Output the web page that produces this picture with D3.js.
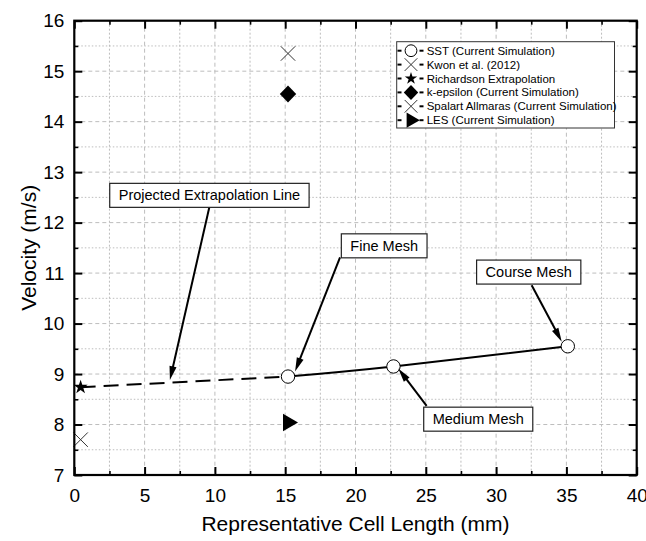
<!DOCTYPE html>
<html>
<head>
<meta charset="utf-8">
<script src="https://cdn.jsdelivr.net/npm/d3@7"></script>
<style>
body{margin:0;background:#fff;}
svg{display:block;font-family:"Liberation Sans",Arial,sans-serif;}
</style>
</head>
<body>
<svg id="chart" width="646" height="541"></svg>
<script>
// values
var sstX = [15.2, 22.7, 35.1];
var sstY = [8.95, 9.15, 9.55];
var kwonX = [0.45], kwonY = [7.7];
var richX = [0.45], richY = [8.74];
var kepsX = [15.2], kepsY = [14.55];
var saX = [15.2], saY = [15.35];
var lesX = [15.2], lesY = [8.04];

var xTicks = [0, 5, 10, 15, 20, 25, 30, 35, 40];
var yTicks = [7, 8, 9, 10, 11, 12, 13, 14, 15, 16];
var legendLabels = ["SST (Current Simulation)", "Kwon et al. (2012)", "Richardson Extrapolation",
  "k-epsilon (Current Simulation)", "Spalart Allmaras (Current Simulation)", "LES (Current Simulation)"];
var legendTypes = ["circle", "times", "star", "diamond", "times", "triangle"];
var noteLabels = ["Projected Extrapolation Line", "Fine Mesh", "Course Mesh", "Medium Mesh"];

var svg = d3.select("#chart");
var pLeft = 74.3, pRight = 636.7, pTop = 20.7, pBottom = 475;

var x = d3.scaleLinear().domain([0, 40]).range([pLeft, pRight]);
var y = d3.scaleLinear().domain([7, 16]).range([pBottom, pTop]);

var xMinor = d3.range(0, 40.01, 2.5).filter(function(v){ return v % 5 != 0; });
var yMinor = d3.range(7, 16.01, 0.5).filter(function(v){ return v % 1 != 0; });

svg.append("rect").attr("width", 646).attr("height", 541).attr("fill", "#fff");

// grid
var grid = svg.append("g").attr("stroke", "#bdbdbd").attr("stroke-width", 1);
xTicks.concat(xMinor).forEach(function(v){
  if (v == 0 || v == 40) return;
  grid.append("line").attr("x1", x(v)).attr("x2", x(v)).attr("y1", pTop).attr("y2", pBottom)
    .attr("stroke-dasharray", v % 5 == 0 ? "4,3" : "2,2");
});
yTicks.concat(yMinor).forEach(function(v){
  if (v == 7 || v == 16) return;
  grid.append("line").attr("y1", y(v)).attr("y2", y(v)).attr("x1", pLeft).attr("x2", pRight)
    .attr("stroke-dasharray", v % 1 == 0 ? "4,3" : "1.5,2");
});

// axes, ticks inward
function styleAxis(g, w){
  g.select(".domain").remove();
  g.selectAll(".tick line").attr("stroke", "#000").attr("stroke-width", w);
  g.selectAll("text").attr("font-size", 19).attr("fill", "#000").attr("font-family", "Liberation Sans, Arial, sans-serif");
}
svg.append("g").attr("transform", "translate(0," + pBottom + ")")
  .call(d3.axisBottom(x).tickValues(xTicks).tickSize(-8).tickPadding(13.5).tickFormat(d3.format("d")))
  .call(styleAxis, 2);
svg.append("g").attr("transform", "translate(0," + pBottom + ")")
  .call(d3.axisBottom(x).tickValues(xMinor).tickSize(-4).tickFormat(""))
  .call(styleAxis, 1.6);
svg.append("g").attr("transform", "translate(0," + pTop + ")")
  .call(d3.axisTop(x).tickValues(xTicks).tickSize(-8).tickFormat("")).call(styleAxis, 2);
svg.append("g").attr("transform", "translate(0," + pTop + ")")
  .call(d3.axisTop(x).tickValues(xMinor).tickSize(-4).tickFormat("")).call(styleAxis, 1.6);
svg.append("g").attr("transform", "translate(" + pLeft + ",0)")
  .call(d3.axisLeft(y).tickValues(yTicks).tickSize(-8).tickPadding(10).tickFormat(d3.format("d")))
  .call(styleAxis, 2);
svg.append("g").attr("transform", "translate(" + pLeft + ",0)")
  .call(d3.axisLeft(y).tickValues(yMinor).tickSize(-4).tickFormat("")).call(styleAxis, 1.6);
svg.append("g").attr("transform", "translate(" + pRight + ",0)")
  .call(d3.axisRight(y).tickValues(yTicks).tickSize(-8).tickFormat("")).call(styleAxis, 2);
svg.append("g").attr("transform", "translate(" + pRight + ",0)")
  .call(d3.axisRight(y).tickValues(yMinor).tickSize(-4).tickFormat("")).call(styleAxis, 1.6);

svg.append("text").attr("x", (pLeft + pRight) / 2).attr("y", 531).attr("text-anchor", "middle")
  .attr("font-size", 21).text("Representative Cell Length (mm)");
svg.append("text").attr("transform", "translate(29," + (pTop + pBottom) / 2 + ") rotate(-90)")
  .attr("text-anchor", "middle").attr("dy", "0.35em").attr("font-size", 21).text("Velocity (m/s)");

// extrapolation line and SST curve
svg.append("path")
  .datum([[richX[0], richY[0]], [sstX[0], sstY[0]]])
  .attr("d", d3.line().x(function(d){ return x(d[0]); }).y(function(d){ return y(d[1]); }))
  .attr("fill", "none").attr("stroke", "#000").attr("stroke-width", 2).attr("stroke-dasharray", "15,8");
svg.append("path")
  .datum(sstX.map(function(v, i){ return [v, sstY[i]]; }))
  .attr("d", d3.line().curve(d3.curveNatural).x(function(d){ return x(d[0]); }).y(function(d){ return y(d[1]); }))
  .attr("fill", "none").attr("stroke", "#000").attr("stroke-width", 2);

function marker(g, type, px, py, s){
  s = s || 1;
  if (type == "circle") {
    g.append("circle").attr("cx", px).attr("cy", py).attr("r", 6.7 * s)
      .attr("fill", "#fff").attr("stroke", "#000").attr("stroke-width", 1);
    return;
  }
  if (type == "times") {
    var h = 7.2 * s;
    g.append("path").attr("d", "M" + (-h) + "," + (-h) + "L" + h + "," + h + "M" + (-h) + "," + h + "L" + h + "," + (-h))
      .attr("transform", "translate(" + px + "," + py + ")").attr("stroke", "#333").attr("stroke-width", 1).attr("fill", "none");
    return;
  }
  if (type == "star") {
    g.append("path").attr("d", d3.symbol(d3.symbolStar, 62 * s * s)())
      .attr("transform", "translate(" + px + "," + py + ")").attr("fill", "#000");
    return;
  }
  if (type == "diamond") {
    var a = 8.5 * s, b = 8.2 * s;
    g.append("path").attr("d", "M0," + (-a) + "L" + b + ",0L0," + a + "L" + (-b) + ",0Z")
      .attr("transform", "translate(" + px + "," + py + ")").attr("fill", "#000");
    return;
  }
  if (type == "triangle") {
    g.append("path").attr("d", d3.symbol(d3.symbolTriangle, 130 * s * s)())
      .attr("transform", "translate(" + px + "," + py + ") rotate(90)").attr("fill", "#000");
  }
}

var marks = svg.append("g");
sstX.forEach(function(v, i){ marker(marks, "circle", x(v), y(sstY[i])); });
kwonX.forEach(function(v, i){ marker(marks, "times", x(v), y(kwonY[i])); });
richX.forEach(function(v, i){ marker(marks, "star", x(v), y(richY[i])); });
kepsX.forEach(function(v, i){ marker(marks, "diamond", x(v), y(kepsY[i])); });
saX.forEach(function(v, i){ marker(marks, "times", x(v), y(saY[i])); });
lesX.forEach(function(v, i){ marker(marks, "triangle", x(v), y(lesY[i])); });

// legend
var lg = svg.append("g");
lg.append("rect").attr("x", 396.7).attr("y", 41.7).attr("width", 217.8).attr("height", 86.3)
  .attr("fill", "#fff").attr("stroke", "#333").attr("stroke-width", 1);
legendLabels.forEach(function(t, i){
  var ry = 50.7 + i * 13.9;
  lg.append("line").attr("x1", 397.5).attr("x2", 401.5).attr("y1", ry).attr("y2", ry).attr("stroke", "#000").attr("stroke-width", 2);
  lg.append("line").attr("x1", 419.5).attr("x2", 423.5).attr("y1", ry).attr("y2", ry).attr("stroke", "#000").attr("stroke-width", 2);
  marker(lg, legendTypes[i], 411, ry, 0.88);
  lg.append("text").attr("x", 426.7).attr("y", ry).attr("dy", "0.35em").attr("font-size", 11.5).text(t);
});

// callouts: box centre, arrow start and arrow tip in data units
var notes = [
  {cx: 9.61, cy: 12.54, sx: 9.60, sy: 12.30, tx: 6.8, ty: 8.88},
  {cx: 22.04, cy: 11.54, sx: 18.90, sy: 11.31, tx: 15.70, ty: 9.05},
  {cx: 32.32, cy: 11.02, sx: 32.53, sy: 10.76, tx: 34.67, ty: 9.64},
  {cx: 28.73, cy: 8.106, sx: 25.06, sy: 8.37, tx: 23.04, ty: 9.11}
];
var ng = svg.append("g");
notes.forEach(function(n, i){
  var x1 = x(n.sx), y1 = y(n.sy), x2 = x(n.tx), y2 = y(n.ty);
  var ang = Math.atan2(y2 - y1, x2 - x1), hl = 14, hw = 3.6;
  var bx = x2 - Math.cos(ang) * hl, by = y2 - Math.sin(ang) * hl;
  ng.append("line").attr("x1", x1).attr("y1", y1)
    .attr("x2", x2 - Math.cos(ang) * hl * 0.6).attr("y2", y2 - Math.sin(ang) * hl * 0.6)
    .attr("stroke", "#000").attr("stroke-width", 2);
  ng.append("path").attr("d", "M" + x2 + "," + y2 +
      "L" + (bx - Math.sin(ang) * hw) + "," + (by + Math.cos(ang) * hw) +
      "L" + (bx + Math.sin(ang) * hw) + "," + (by - Math.cos(ang) * hw) + "Z")
    .attr("fill", "#000");
  var box = ng.append("rect").attr("fill", "#fff").attr("stroke", "#222").attr("stroke-width", 1.2);
  var txt = ng.append("text").attr("x", x(n.cx)).attr("y", y(n.cy)).attr("dy", "0.35em")
    .attr("text-anchor", "middle").attr("font-size", 14.5).text(noteLabels[i]);
  var w = txt.node().getComputedTextLength() + 18, h = 24;
  box.attr("x", x(n.cx) - w / 2).attr("y", y(n.cy) - h / 2).attr("width", w).attr("height", h);
});

// frame
svg.append("rect").attr("x", pLeft).attr("y", pTop).attr("width", pRight - pLeft).attr("height", pBottom - pTop)
  .attr("fill", "none").attr("stroke", "#000").attr("stroke-width", 2.2);
</script>
</body>
</html>
